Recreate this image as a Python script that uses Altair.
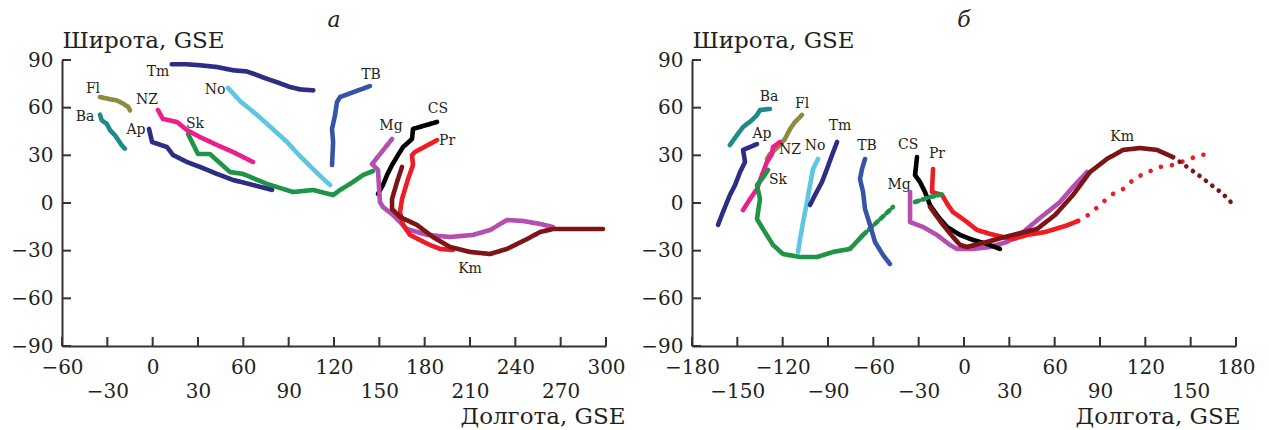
import altair as alt
import pandas as pd

FONT = "DejaVu Serif"
TXT = "#231f20"

NAMES = ["Tm", "Ap", "No", "Fl", "Ba", "NZ", "Sk", "TB", "Mg", "Pr", "CS", "Km"]
COLORS = ["#2e2d83", "#2e2d83", "#5ec6e4", "#8c8c3c", "#1f8a8c", "#ec1e8c",
          "#1f9447", "#3553a8", "#b44faf", "#ee1c25", "#000000", "#7f1416"]

# ---------- panel а (longitude -60..300) ----------
A_Tm_lon = [12.6, 22.5, 31.3, 42.4, 53.4, 62.2, 66.6, 75.5, 82.1, 90.9, 97.5, 106.3]
A_Tm_lat = [87.3, 87.3, 86.7, 85.6, 83.5, 82.8, 81.4, 78.2, 76.1, 73.0, 71.5, 70.9]
A_No_lon = [49.9, 58.0, 69.1, 79.0, 88.9, 97.0, 106.1, 112.0, 117.4]
A_No_lat = [72.4, 64.0, 55.4, 47.0, 38.4, 30.0, 21.4, 16.0, 11.3]
A_Fl_lon = [-34.9, -28.2, -23.8, -19.4, -16.1, -15.0]
A_Fl_lat = [66.7, 65.3, 64.6, 62.5, 60.4, 58.3]
A_Ba_lon = [-34.9, -33.7, -30.4, -28.2, -24.9, -22.7, -20.5, -18.3]
A_Ba_lat = [55.6, 52.0, 49.9, 45.8, 42.6, 39.5, 36.3, 34.2]
A_NZ_lon = [3.5, 6.8, 16.1, 22.7, 31.3, 42.6, 53.2, 66.4]
A_NZ_lat = [58.5, 52.9, 51.0, 45.9, 41.5, 36.5, 32.1, 25.8]
A_Ap_lon = [-2.4, -0.4, 9.5, 13.5, 22.7, 31.3, 42.6, 53.2, 66.4, 79.0]
A_Ap_lat = [46.6, 38.4, 35.2, 30.2, 25.8, 22.7, 18.3, 14.5, 11.3, 8.2]
A_Sk_lon = [23.4, 30.0, 37.9, 51.2, 59.8, 75.7, 92.9, 106.1, 119.4, 124.0, 130.6, 139.2, 145.8]
A_Sk_lat = [43.4, 30.8, 30.8, 19.5, 18.3, 12.0, 6.9, 8.2, 5.0, 8.2, 12.0, 17.6, 20.1]
A_TB_lon = [143.8, 124.0, 122.0, 120.7, 118.7, 119.4, 118.7]
A_TB_lat = [73.6, 66.7, 63.6, 55.4, 46.6, 38.4, 23.9]
A_CS_lon = [188.2, 172.3, 171.6, 165.7, 162.4, 158.4, 155.1, 152.4, 149.1]
A_CS_lat = [51.0, 46.6, 40.3, 35.2, 30.2, 23.9, 17.6, 11.3, 5.7]
A_Pr_lon = [188.2, 173.6, 171.6, 172.3, 169.0, 167.0, 165.0, 163.7, 165.7, 170.3, 176.9, 183.5, 190.2, 198.8]
A_Pr_lat = [39.6, 32.1, 30.2, 23.9, 15.1, 8.8, 2.5, -5.7, -13.8, -20.1, -23.3, -26.4, -28.9, -29.6]
A_Mg_lon = [158.4, 145.2, 149.1, 150.4, 152.4, 159.1, 168.3, 181.6, 196.8, 212.0, 223.3, 234.5, 245.1, 256.3, 264.9]
A_Mg_lat = [40.3, 24.5, 20.8, 0.6, -2.5, -7.6, -16.4, -20.1, -21.4, -20.1, -17.0, -10.7, -11.3, -13.2, -15.1]
A_Km_lon = [165.0, 161.7, 158.4, 158.4, 163.7, 174.9, 185.5, 196.8, 210.0, 223.3, 234.5, 247.7, 256.3, 264.9, 298.0]
A_Km_lat = [22.7, 13.2, 2.5, -3.8, -8.8, -13.8, -21.4, -27.7, -30.8, -32.1, -28.9, -22.7, -18.3, -16.4, -16.4]

A_LAB_NAMES = ["Tm", "No", "Fl", "NZ", "Ba", "Ap", "Sk", "TB", "CS", "Mg", "Pr", "Km"]
A_LAB_LON = [3.5, 41.3, -39.5, -3.7, -44.8, -11.0, 28.0, 144.5, 188.8, 157.7, 194.8, 210.0]
A_LAB_LAT = [82.4, 71.1, 71.7, 64.8, 54.1, 45.9, 49.7, 80.6, 59.2, 48.5, 39.0, -41.5]

# ---------- panel б (longitude -180..180) ----------
B_Ba_lon = [-128.4, -135.0, -137.0, -140.3, -146.2, -150.2, -154.9]
B_Ba_lat = [59.2, 58.5, 55.4, 52.2, 47.8, 42.8, 36.5]
B_Fl_lon = [-107.2, -111.8, -115.1, -118.5, -123.1, -128.4, -130.4]
B_Fl_lat = [55.4, 51.0, 46.6, 40.3, 35.2, 30.8, 27.7]
B_Ap_lon = [-137.0, -146.2, -144.9, -148.2, -151.5, -154.9, -159.5, -162.8]
B_Ap_lat = [37.1, 33.4, 25.8, 19.5, 11.3, 5.0, -5.7, -13.8]
B_NZ_lon = [-121.8, -126.4, -127.1, -130.4, -133.7, -137.0, -141.6, -146.2]
B_NZ_lat = [38.4, 35.2, 30.8, 25.8, 17.6, 8.8, 2.5, -4.4]
B_Sk_lon = [-129.7, -133.7, -137.0, -135.0, -137.0, -133.0, -126.4, -119.8, -108.5, -97.3, -86.7, -75.4, -66.8]
B_Sk_lat = [20.8, 15.1, 11.3, 2.5, -10.1, -16.4, -26.4, -32.1, -34.0, -34.0, -30.8, -28.9, -20.1]
B_Sk2_lon = [-66.8, -57.6, -49.0, -47.0]
B_Sk2_lat = [-20.1, -12.0, -4.4, -2.5]
B_Sk3_lon = [-32.4, -22.5, -12.6]
B_Sk3_lat = [0.6, 3.8, 5.7]
B_No_lon = [-96.6, -99.9, -101.9, -103.9, -106.5, -108.5, -109.8]
B_No_lat = [27.7, 21.4, 11.3, 0.6, -12.0, -22.7, -30.8]
B_Tm_lon = [-84.0, -87.3, -90.7, -94.0, -98.6, -101.9]
B_Tm_lat = [38.4, 30.2, 21.4, 13.2, 5.0, -1.3]
B_TB_lon = [-65.5, -67.5, -68.8, -66.8, -65.5, -62.2, -58.9, -53.6, -49.0]
B_TB_lat = [27.7, 21.4, 15.1, 6.9, -3.8, -13.8, -24.5, -32.7, -38.4]
B_CS_lon = [-31.1, -32.4, -29.1, -25.8, -22.5, -17.9, -11.2, -2.6, 6.0, 15.2, 23.8]
B_CS_lat = [28.9, 17.6, 13.2, 6.9, -1.3, -7.6, -15.1, -20.1, -23.3, -25.8, -28.9]
B_Pr_lon = [-20.5, -21.2, -14.5, -10.6, -7.3, -2.6, 2.0, 8.6, 17.2, 25.8, 32.4, 41.7, 53.6, 66.9, 75.5]
B_Pr_lat = [21.4, 6.9, 5.0, -1.3, -5.7, -8.8, -12.0, -17.0, -19.5, -21.4, -22.7, -20.1, -18.3, -14.5, -11.3]
B_Pr2_lon = [75.5, 83.4, 92.0, 98.6, 105.2, 111.9, 118.5, 129.7, 138.3, 147.6, 156.2, 164.8]
B_Pr2_lat = [-11.3, -6.9, 0.6, 5.7, 8.8, 14.5, 18.3, 22.7, 23.9, 27.1, 30.2, 30.8]
B_Mg_lon = [-35.7, -35.7, -27.1, -17.9, -9.3, -4.6, 6.0, 17.2, 28.5, 39.1, 50.3, 63.5, 72.1, 81.4]
B_Mg_lat = [6.9, -12.0, -15.1, -20.1, -26.4, -28.9, -28.9, -27.7, -24.5, -18.3, -9.4, 0.6, 10.1, 19.5]
B_Km_lon = [-22.5, -19.2, -13.9, -7.3, -2.6, 2.0, 15.2, 32.4, 48.3, 60.2, 72.1, 83.4, 94.6, 105.2, 116.5, 127.7, 138.3]
B_Km_lat = [-2.5, -6.9, -13.8, -21.4, -26.4, -27.7, -24.5, -20.1, -16.4, -7.6, 5.0, 19.5, 27.7, 33.4, 34.6, 33.4, 28.9]
B_Km2_lon = [138.3, 144.9, 154.2, 162.8, 171.4, 179.0]
B_Km2_lat = [28.9, 24.5, 18.3, 12.0, 5.7, -1.8]

B_LAB_NAMES = ["Ba", "Fl", "Ap", "NZ", "No", "Tm", "TB", "Sk", "CS", "Pr", "Mg", "Km"]
B_LAB_LON = [-129.0, -107.2, -133.7, -115.1, -98.6, -82.1, -64.2, -123.1, -37.0, -17.9, -43.0, 104.6]
B_LAB_LAT = [66.7, 62.3, 43.4, 33.4, 35.9, 48.5, 35.9, 14.5, 36.5, 30.8, 11.3, 41.5]

A_XTICKS = [-60, -30, 0, 30, 60, 90, 120, 150, 180, 210, 240, 270, 300]
B_XTICKS = [-180, -150, -120, -90, -60, -30, 0, 30, 60, 90, 120, 150, 180]
YTICKS = [-90, -60, -30, 0, 30, 60, 90]

A_TRAJ = [
    ("Sk", "solid", A_Sk_lon, A_Sk_lat), ("Ap", "solid", A_Ap_lon, A_Ap_lat),
    ("NZ", "solid", A_NZ_lon, A_NZ_lat), ("Tm", "solid", A_Tm_lon, A_Tm_lat),
    ("No", "solid", A_No_lon, A_No_lat), ("Fl", "solid", A_Fl_lon, A_Fl_lat),
    ("Ba", "solid", A_Ba_lon, A_Ba_lat), ("TB", "solid", A_TB_lon, A_TB_lat),
    ("CS", "solid", A_CS_lon, A_CS_lat), ("Mg", "solid", A_Mg_lon, A_Mg_lat),
    ("Pr", "solid", A_Pr_lon, A_Pr_lat), ("Km", "solid", A_Km_lon, A_Km_lat),
]
B_TRAJ = [
    ("Ba", "solid", B_Ba_lon, B_Ba_lat), ("Fl", "solid", B_Fl_lon, B_Fl_lat),
    ("Ap", "solid", B_Ap_lon, B_Ap_lat), ("NZ", "solid", B_NZ_lon, B_NZ_lat),
    ("Sk", "solid", B_Sk_lon, B_Sk_lat), ("Sk", "dash", B_Sk2_lon, B_Sk2_lat),
    ("No", "solid", B_No_lon, B_No_lat), ("Tm", "solid", B_Tm_lon, B_Tm_lat),
    ("TB", "solid", B_TB_lon, B_TB_lat), ("Mg", "solid", B_Mg_lon, B_Mg_lat),
    ("CS", "solid", B_CS_lon, B_CS_lat), ("Pr", "solid", B_Pr_lon, B_Pr_lat),
    ("Pr", "dot", B_Pr2_lon, B_Pr2_lat), ("Km", "solid", B_Km_lon, B_Km_lat),
    ("Km", "dot2", B_Km2_lon, B_Km2_lat), ("Sk", "dash", B_Sk3_lon, B_Sk3_lat),
]

W, H = 544, 286


def traj_frame(traj):
    rows = []
    for k, (name, style, lons, lats) in enumerate(traj):
        for i, (lo, la) in enumerate(zip(lons, lats)):
            rows.append({"name": name, "style": style, "seg": k, "i": i, "lon": lo, "lat": la})
    return pd.DataFrame(rows)


def panel(traj, lab_names, lab_lon, lab_lat, xticks, title, xtitle_dx):
    xs = alt.Scale(domain=[xticks[0], xticks[-1]], nice=False, zero=False)
    ys = alt.Scale(domain=[-90, 90], nice=False, zero=False)
    xaxis = alt.Axis(
        values=xticks, grid=False, ticks=False, tickSize=0, labelPadding=11,
        labelExpr="datum.value % 60 === 0 ? datum.label : ['', datum.label]",
        labelOverlap=False, labelFlush=False, labelLineHeight=24,
        labelFont=FONT, labelFontSize=20, labelColor=TXT,
        domainColor="#333333", domainWidth=2,
        title="Долгота, GSE", titleFont=FONT, titleFontSize=23, titleFontWeight="normal",
        titleColor=TXT, titleAlign="right", titleAngle=0, titleBaseline="alphabetic",
        titleX=W + xtitle_dx, titleY=77,
    )
    yaxis = alt.Axis(
        values=YTICKS, grid=False, ticks=False, tickSize=0, labelPadding=9,
        labelFont=FONT, labelFontSize=20, labelColor=TXT, labelFlush=False,
        labelOverlap=False,
        domainColor="#333333", domainWidth=2,
        title="Широта, GSE", titleFont=FONT, titleFontSize=23, titleFontWeight="normal",
        titleColor=TXT, titleAlign="left", titleAngle=0, titleBaseline="alphabetic",
        titleX=0, titleY=-13,
    )
    df = traj_frame(traj)
    lines = alt.Chart(df).mark_line(strokeWidth=4.6, strokeCap="round", strokeJoin="round").encode(
        x=alt.X("lon:Q", scale=xs, axis=xaxis),
        y=alt.Y("lat:Q", scale=ys, axis=yaxis),
        color=alt.Color("name:N", scale=alt.Scale(domain=NAMES, range=COLORS), legend=None),
        strokeDash=alt.StrokeDash(
            "style:N",
            scale=alt.Scale(domain=["solid", "dash", "dot", "dot2"],
                            range=[[1, 0], [4, 4], [0.1, 11], [0.1, 8]]),
            legend=None),
        detail="seg:N",
        order="i:Q",
    )
    labdf = pd.DataFrame({"name": lab_names, "lon": lab_lon, "lat": lab_lat})
    labels = alt.Chart(labdf).mark_text(font=FONT, fontSize=14, color=TXT).encode(
        x=alt.X("lon:Q", scale=xs), y=alt.Y("lat:Q", scale=ys), text="name:N")
    xt = alt.Chart(pd.DataFrame({"lon": xticks})).mark_rule(color="#333333", strokeWidth=2).encode(
        x=alt.X("lon:Q", scale=xs), y=alt.value(H), y2=alt.value(H - 9))
    yt = alt.Chart(pd.DataFrame({"lat": YTICKS})).mark_rule(color="#333333", strokeWidth=2).encode(
        y=alt.Y("lat:Q", scale=ys), x=alt.value(0), x2=alt.value(9))
    return alt.layer(lines, xt, yt, labels).properties(
        width=W, height=H,
        title=alt.TitleParams(text=title, font=FONT, fontStyle="italic", fontSize=22,
                              fontWeight="normal", color=TXT, anchor="middle", offset=-3),
    )


a = panel(A_TRAJ, A_LAB_NAMES, A_LAB_LON, A_LAB_LAT, A_XTICKS, "а", 19)
b = panel(B_TRAJ, B_LAB_NAMES, B_LAB_LON, B_LAB_LAT, B_XTICKS, "б", 4)

chart = alt.hconcat(a, b, spacing=86, bounds="flush").configure_view(stroke=None).properties(
    padding={"left": 2, "top": 1, "right": 0, "bottom": 0})

chart.save("out.html", embed_options={"renderer": "svg", "actions": False})
